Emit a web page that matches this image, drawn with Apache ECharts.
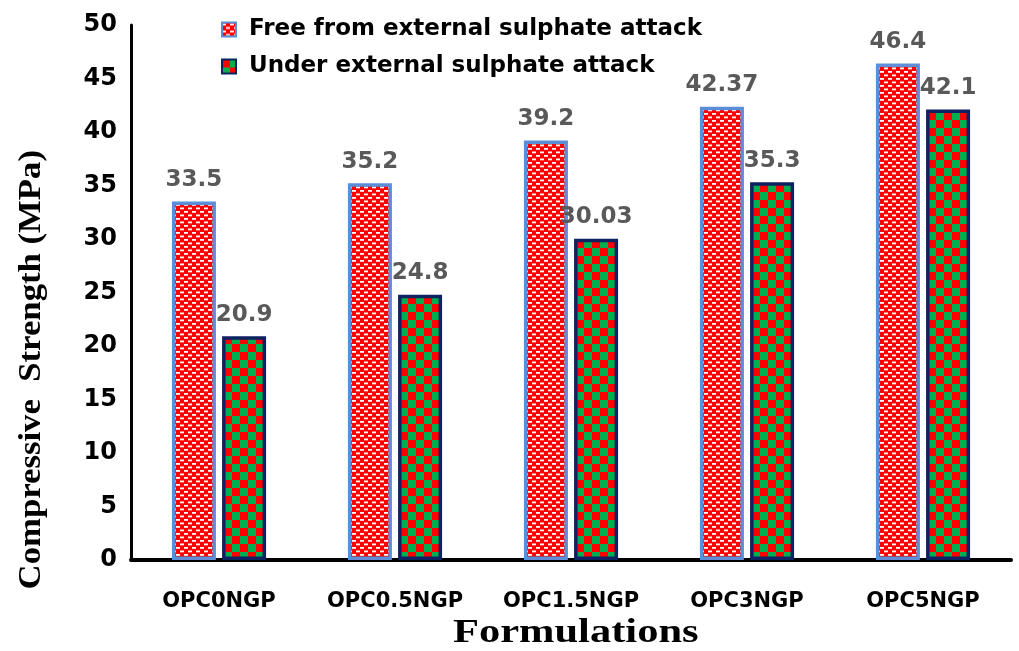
<!DOCTYPE html>
<html>
<head>
<meta charset="utf-8">
<script src="https://cdn.jsdelivr.net/npm/echarts@6/dist/echarts.min.js"></script>
<style>
  html, body { margin: 0; padding: 0; background: #ffffff; }
  #chart { width: 1019px; height: 651px; }
</style>
</head>
<body>
<div id="chart"></div>
<script>
// Formulations and compressive strength (MPa)
const categories = ['OPC0NGP', 'OPC0.5NGP', 'OPC1.5NGP', 'OPC3NGP', 'OPC5NGP'];
const freeValues = [33.5, 35.2, 39.2, 42.37, 46.4];
const attackValues = [20.9, 24.8, 30.03, 35.3, 42.1];
const seriesNames = ['Free from external sulphate attack', 'Under external sulphate attack'];
const yTicks = [0, 5, 10, 15, 20, 25, 30, 35, 40, 45, 50];

// Red fill with staggered white dashes
function dashPattern() {
  const c = document.createElement('canvas');
  c.width = 8; c.height = 7;
  const g = c.getContext('2d');
  g.fillStyle = '#ff0000';
  g.fillRect(0, 0, 8, 7);
  g.fillStyle = '#ffffff';
  g.fillRect(0, 1, 4, 1.8);
  g.fillRect(4, 4.5, 4, 1.8);
  return c;
}

// Red / green checkerboard
function checkerPattern() {
  const s = 8;
  const c = document.createElement('canvas');
  c.width = 2 * s; c.height = 2 * s;
  const g = c.getContext('2d');
  g.fillStyle = '#ff0000';
  g.fillRect(0, 0, 2 * s, 2 * s);
  g.fillStyle = '#00b050';
  g.fillRect(s, 0, s, s);
  g.fillRect(0, s, s, s);
  return c;
}

const freeStyle = {
  color: { image: dashPattern(), repeat: 'repeat' },
  borderColor: '#5b8ed6',
  borderWidth: 3.5
};
const attackStyle = {
  color: { image: checkerPattern(), repeat: 'repeat' },
  borderColor: '#0e2161',
  borderWidth: 3.5
};

const labelStyle = {
  show: true,
  position: 'top',
  distance: 10,
  color: '#595959',
  fontFamily: 'DejaVu Sans',
  fontWeight: 'bold',
  fontSize: 23
};

const chart = echarts.init(document.getElementById('chart'), null, { renderer: 'canvas' });
chart.setOption({
  animation: false,
  backgroundColor: '#ffffff',
  grid: { left: 131, right: 8, top: 25, bottom: 91, containLabel: false, outerBoundsMode: 'none' },
  legend: {
    orient: 'vertical',
    left: 216,
    top: 13,
    icon: 'rect',
    itemWidth: 14,
    itemHeight: 14,
    itemGap: 14,
    textStyle: {
      color: '#000000', fontFamily: 'DejaVu Sans', fontWeight: 'bold', fontSize: 23,
      padding: [0, 0, 0, 8]
    },
    data: [
      { name: seriesNames[0], itemStyle: { borderColor: freeStyle.borderColor, borderWidth: 2 } },
      { name: seriesNames[1], itemStyle: { borderColor: attackStyle.borderColor, borderWidth: 2 } }
    ]
  },
  xAxis: {
    type: 'category',
    data: categories,
    axisLine: { show: true, lineStyle: { color: '#000000', width: 4 } },
    axisTick: { show: false },
    axisLabel: {
      interval: 0, hideOverlap: false,
      color: '#000000', fontFamily: 'DejaVu Sans', fontWeight: 'bold', fontSize: 21, margin: 31
    }
  },
  yAxis: {
    type: 'value',
    min: yTicks[0],
    max: yTicks[yTicks.length - 1],
    interval: 5,
    axisLine: { show: true, lineStyle: { color: '#000000', width: 3 } },
    axisTick: { show: false },
    splitLine: { show: false },
    axisLabel: { color: '#000000', fontFamily: 'DejaVu Sans', fontWeight: 'bold', fontSize: 24, margin: 14 }
  },
  graphic: [
    {
      type: 'text',
      left: 16,
      top: 150,
      rotation: Math.PI / 2,
      scaleX: 1.12,
      style: {
        text: 'Compressive  Strength (MPa)',
        fill: '#000000',
        font: 'bold 31px "Liberation Serif"'
      }
    },
    {
      type: 'text',
      left: 453,
      top: 616,
      scaleX: 1.25,
      style: {
        text: 'Formulations',
        fill: '#000000',
        font: 'bold 34px "Liberation Serif"'
      }
    }
  ],
  series: [
    {
      name: seriesNames[0],
      type: 'bar',
      data: freeValues,
      barWidth: 44,
      barGap: '14%',
      itemStyle: freeStyle,
      label: labelStyle
    },
    {
      name: seriesNames[1],
      type: 'bar',
      data: attackValues,
      barWidth: 44,
      itemStyle: attackStyle,
      label: labelStyle
    }
  ]
});
</script>
</body>
</html>
